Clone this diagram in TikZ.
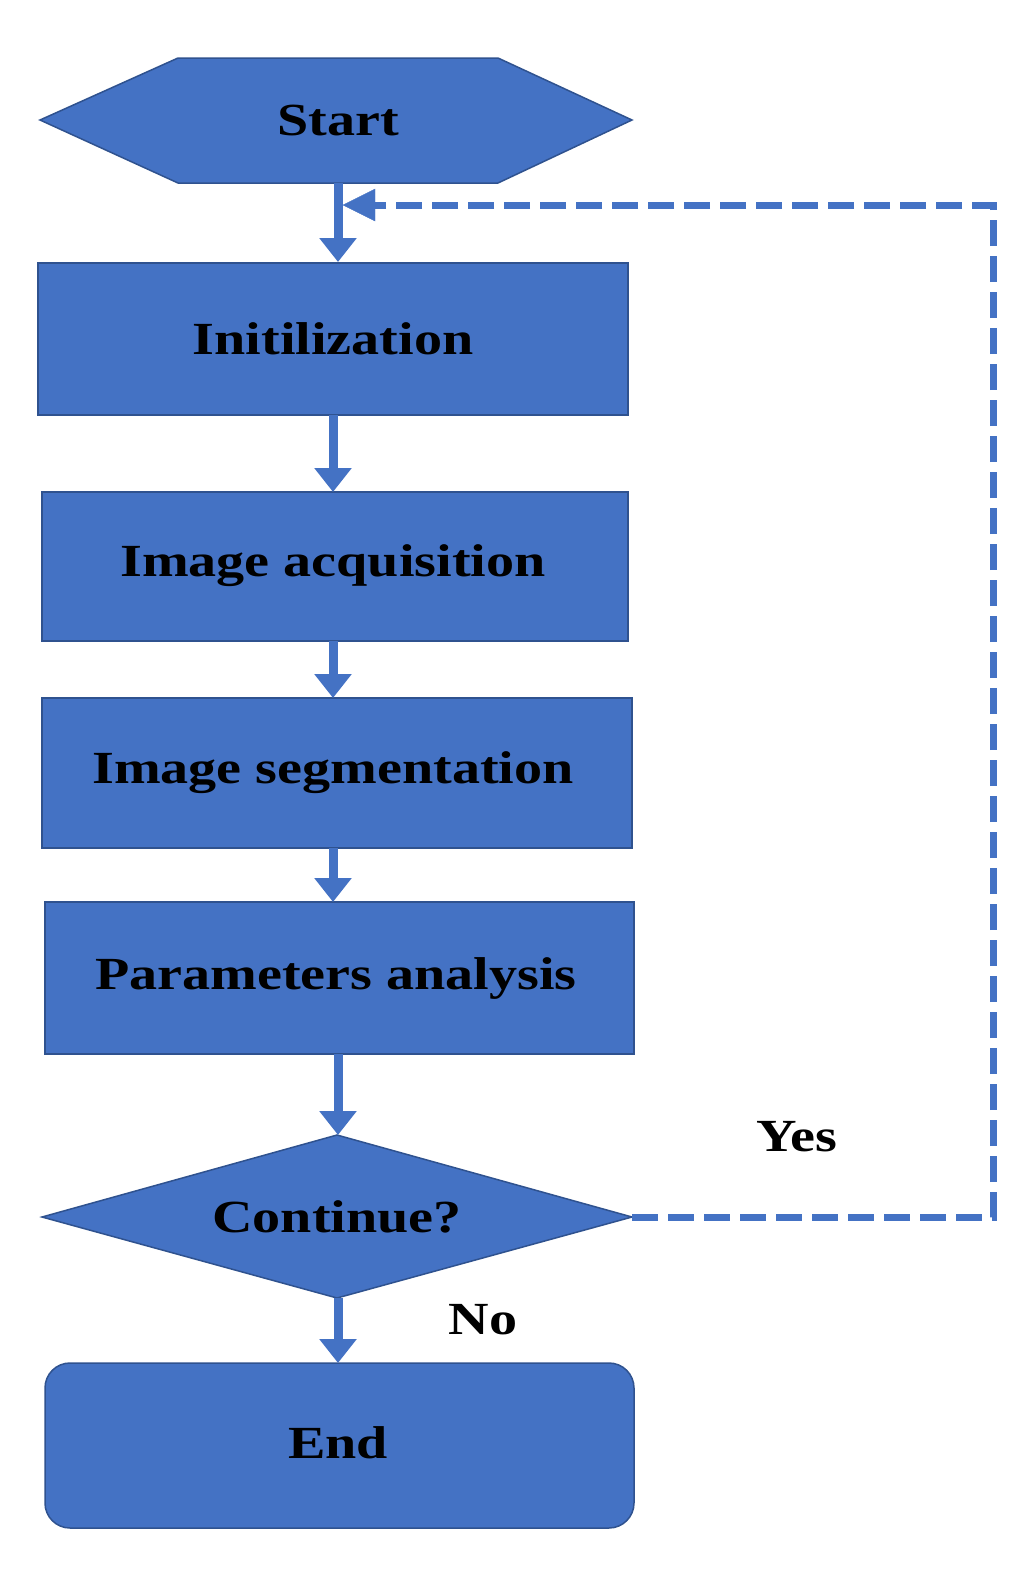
\documentclass[tikz,border=0pt]{standalone}
\usepackage{fontspec}
\setmainfont{Liberation Serif}[FakeStretch=1.22]
\usetikzlibrary{arrows.meta}
\definecolor{fillb}{HTML}{4472C4}
\definecolor{edgeb}{HTML}{2F528F}
\begin{document}
\begin{tikzpicture}[x=1pt,y=-1pt,
  box/.style={fill=fillb,draw=edgeb,line width=1.5pt},
  lab/.style={font=\fontsize{46}{50}\selectfont\bfseries,text=black},
  arr/.style={draw=fillb,line width=9pt,-{Triangle[length=24pt,width=36pt]}},
  dashline/.style={draw=fillb,line width=7pt,dash pattern=on 26pt off 10pt}]
\useasboundingbox (0,0) rectangle (1035,1580);
\draw[box] (40,120)--(178,58)--(498,58)--(632,120)--(498,183)--(178,183)--cycle;
\node[lab] (start) at (338,120) {Start};
\draw[box] (38,263) rectangle (628,415); \node[lab] (init) at (333,339) {Initilization};
\draw[box] (42,492) rectangle (628,641); \node[lab] (acq) at (333,566) {Image acquisition};
\draw[box] (42,698) rectangle (632,848); \node[lab] (seg) at (333,773) {Image segmentation};
\draw[box] (45,902) rectangle (634,1054); \node[lab] (par) at (336,978) {Parameters analysis};
\draw[box] (42,1217)--(337,1135)--(632,1217)--(337,1298)--cycle;
\node[lab] (cont) at (337,1217) {Continue?};
\draw[box,rounded corners=25pt] (45,1363) rectangle (634,1528); \node[lab] (end) at (338,1443) {End};
\node[lab] (yes) at (797,1137) {Yes};
\node[lab] (no) at (483,1320) {No};
\coordinate (a0) at (338,183); \coordinate (a1) at (338,262);
\coordinate (b0) at (333,415); \coordinate (b1) at (333,492);
\coordinate (c0) at (333,641); \coordinate (c1) at (333,698);
\coordinate (d0) at (333,848); \coordinate (d1) at (333,902);
\coordinate (e0) at (338,1054); \coordinate (e1) at (338,1135);
\coordinate (f0) at (338,1298); \coordinate (f1) at (338,1363);
\coordinate (g0) at (632,1217); \coordinate (g1) at (993,1217);
\coordinate (g2) at (993,205); \coordinate (g3) at (343,205);
\coordinate (g4) at (375,205);
\foreach \s/\t in {a0/a1,b0/b1,c0/c1,d0/d1,e0/e1,f0/f1} \draw[arr] (\s)--(\t);
\draw[dashline] (g0)--(g1)--(g2)--(g4);
\draw[draw=fillb,fill=fillb] (g3)--(375,189)--(375,221)--cycle;
\end{tikzpicture}
\end{document}
